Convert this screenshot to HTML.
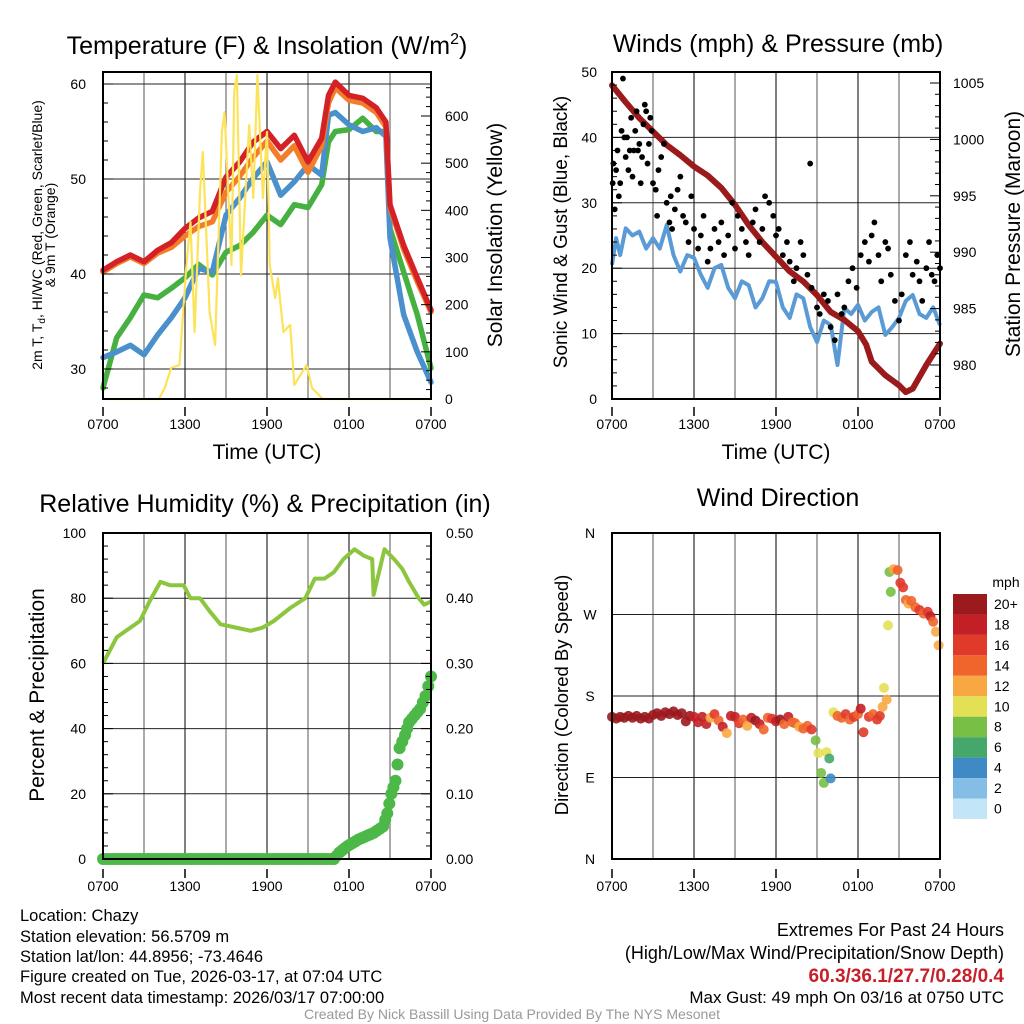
<!DOCTYPE html>
<html><head><meta charset="utf-8">
<style>
html,body{margin:0;padding:0;background:#fff;}
svg{display:block;font-family:"Liberation Sans",Arial,sans-serif;}
</style></head>
<body>
<svg id="root" width="1024" height="1024" viewBox="0 0 1024 1024" xmlns="http://www.w3.org/2000/svg">
<g id="p1"></g>
<g id="p2"></g>
<g id="p3"></g>
<g id="p4"></g>
<g id="txt">
<text x="267" y="54" text-anchor="middle" font-size="25">Temperature (F) &amp; Insolation (W/m<tspan dy="-10" font-size="16">2</tspan><tspan dy="10">)</tspan></text>
<text x="778" y="52" text-anchor="middle" font-size="25">Winds (mph) &amp; Pressure (mb)</text>
<text x="265" y="512" text-anchor="middle" font-size="25">Relative Humidity (%) &amp; Precipitation (in)</text>
<text x="778" y="506" text-anchor="middle" font-size="25">Wind Direction</text>
<text x="267" y="459" text-anchor="middle" font-size="21">Time (UTC)</text>
<text x="776" y="459" text-anchor="middle" font-size="21">Time (UTC)</text>
<g transform="translate(42,235) rotate(-90)" font-size="14" text-anchor="middle">
<text x="0" y="0">2m T, T<tspan font-size="10" dy="3">d</tspan><tspan dy="-3">, HI/WC (Red, Green, Scarlet/Blue)</tspan></text>
<text x="0" y="13">&amp; 9m T (Orange)</text></g>
<text transform="translate(502,235) rotate(-90)" text-anchor="middle" font-size="21">Solar Insolation (Yellow)</text>
<text transform="translate(567,232) rotate(-90)" text-anchor="middle" font-size="19">Sonic Wind &amp; Gust (Blue, Black)</text>
<text transform="translate(1020,234) rotate(-90)" text-anchor="middle" font-size="21">Station Pressure (Maroon)</text>
<text transform="translate(44,695) rotate(-90)" text-anchor="middle" font-size="21">Percent &amp; Precipitation</text>
<text transform="translate(568,695) rotate(-90)" text-anchor="middle" font-size="18.5">Direction (Colored By Speed)</text>
<g font-size="16.5">
<text x="20" y="921">Location: Chazy</text>
<text x="20" y="942">Station elevation: 56.5709 m</text>
<text x="20" y="962">Station lat/lon: 44.8956; -73.4646</text>
<text x="20" y="982">Figure created on Tue, 2026-03-17, at 07:04 UTC</text>
<text x="20" y="1003">Most recent data timestamp: 2026/03/17 07:00:00</text>
</g>
<g text-anchor="end">
<text x="1004" y="936" font-size="18">Extremes For Past 24 Hours</text>
<text x="1004" y="959" font-size="18">(High/Low/Max Wind/Precipitation/Snow Depth)</text>
<text x="1004" y="982" font-size="19" fill="#c8202a" font-weight="bold">60.3/36.1/27.7/0.28/0.4</text>
<text x="1004" y="1003" font-size="17">Max Gust: 49 mph On 03/16 at 0750 UTC</text>
</g>
<text x="512" y="1019" text-anchor="middle" font-size="14" fill="#999">Created By Nick Bassill Using Data Provided By The NYS Mesonet</text>
</g>
</svg>
<script>
// ---- Panel 1 data ----
const tHours = [0,1,2,3,4,5,6,7,8,9,10,11,12,13,14,15,16,16.5,17,18,19,20,20.7,21,22,23,24];
const tempRed = [40.4,41.3,42,41.3,42.5,43.3,44.8,45.9,46.6,50.2,51.8,53.9,55,53.2,54.6,51.8,54.3,58.8,60.2,58.8,58.5,57.5,56,47.3,43,39.6,36.2];
const temp9m = [40.2,41.1,41.8,41.1,42.2,42.8,44,45,45.5,48.6,50.3,52.3,54,52,53.5,50.7,53.5,58,59.6,58.3,58,57,55.5,47,42.6,39.2,36];
const dewGreen = [28,33.3,35.4,37.8,37.5,38.5,39.6,41,39.9,42.3,43,44.4,46.2,45.2,47.3,47,49.4,53.9,55,55.2,56.4,55,55,44.8,40.2,35.7,30.1];
const chillBlue = [31.2,31.8,32.5,31.5,33.6,35.4,37.5,40.6,40.2,46.2,48,50.1,51.8,48.3,49.7,51.5,50.4,56.7,57,55.7,55,55.4,54.5,43.8,35.7,31.8,28.6];
const solarHours = [0,4.1,4.5,5.0,5.6,6.1,6.4,6.7,7.1,7.3,7.8,8.2,8.7,8.9,9.4,9.6,9.8,10.1,10.7,11,11.3,11.7,12,12.2,12.6,12.8,13.2,13.7,14,14.9,15.3,16.1,24];
const solarVals = [0,0,23,66,72,284,375,142,439,524,184,114,566,608,284,651,687,263,581,426,687,426,566,284,214,256,142,157,30,72,23,0,0];
const tempTicks = [30,40,50,60];
const solarTicks = [0,100,200,300,400,500,600];
const timeLabels = ["0700","1300","1900","0100","0700"];
const timeTickHours = [0,6,12,18,24];
// ---- Panel 2 data ----
const pHours = [0,1,2,3,4,5,6,7,8,9,10,11,12,13,14,15,16,17,18,18.6,19,20,21,21.5,22,23,24];
const pressure = [1004.8,1003.3,1001.9,1000.7,999.5,998.6,997.6,996.8,995.7,994.2,992.4,990.9,989.6,988.3,987.4,986.2,984.7,984,983,981.8,980.3,979.1,978.2,977.6,977.9,980,981.9];
const windHours = [0,0.3,0.6,1,1.5,2,2.5,3,3.5,4,4.5,5,5.5,6,6.5,7,7.5,8,8.5,9,9.5,10,10.5,11,11.5,12,12.5,13,13.5,14,14.5,15,15.5,16,16.5,17,17.5,18,18.5,19,19.5,20,20.5,21,21.5,22,22.5,23,23.5,24];
const windSpeed = [20.5,24.6,22,26.1,25,25.6,23,24.6,23,26.6,22,19.5,22,21.6,19,17,20,20.5,17,15.4,18,17.4,14,15.4,18,17.9,14,12.4,16,15.4,11,8.7,12,11.3,5.2,13.9,13,14.4,12,13.3,14,9.8,11,12.4,15,15.9,13,12.4,14,11.3];
const gustHours = [0.05,0.1,0.2,0.3,0.4,0.5,0.6,0.7,0.8,0.9,1.0,1.1,1.2,1.3,1.4,1.5,1.6,1.7,1.8,1.9,2.0,2.1,2.2,2.3,2.4,2.5,2.6,2.7,2.8,2.9,3.0,3.2,3.3,3.4,3.6,3.8,4.0,4.2,4.3,4.4,4.6,4.8,5.0,5.2,5.4,5.6,5.8,6.0,6.3,6.5,6.7,7.0,7.2,7.5,7.8,8.0,8.2,8.5,8.8,9.0,9.2,9.5,9.8,10.0,10.3,10.5,10.8,11.0,11.2,11.5,11.8,12.0,12.2,12.5,12.8,13.0,13.3,13.5,13.8,14.0,14.3,14.5,14.6,15.0,15.2,15.5,15.8,16.0,16.3,16.5,16.8,17.0,17.3,17.6,17.9,18.2,18.5,18.8,19.0,19.2,19.5,19.7,20.0,20.2,20.4,20.7,21.0,21.2,21.5,21.8,22.0,22.3,22.5,22.7,23.0,23.2,23.4,23.6,23.8,24.0];
const gustVals = [33,36,29,35,38,31,33,41,49,40,37,40,35,38,43,34,38,41,44,38,39,33,37,42,45,44,36,39,43,41,33,32,28,35,37,39,30,27,31,26,29,32,34,28,27,24,31,26,23,25,28,21,23,26,24,27,22,25,30,23,28,26,24,22,27,29,24,26,31,30,28,25,26,22,24,21,18,20,24,22,19,36,17,14,13,16,15,11,9,16,13,14,18,20,17,22,24,21,25,27,22,18,24,23,19,15,12,16,22,24,19,21,18,15,20,24,19,18,22,20];
const windTicks = [0,10,20,30,40,50];
const pressTicks = [980,985,990,995,1000,1005];
// ---- Panel 3 data ----
const rhHours = [0,1,2.7,3.4,4.2,4.9,5.9,6.4,7.1,7.8,8.6,9.7,10.8,11.7,12.5,13.7,14.8,15.5,16.2,16.9,17.6,18.4,19.1,19.7,19.8,20.6,21.3,21.9,22.4,23.1,23.5,24];
const rhVals = [60,68,73,79,85,84,84,80,80,76,72,71,70,71,73,77,80,86,86,88,92,95,93,92,81,95,92,89,85,80,78,79];
const precHours = [0,16.9,17.3,17.9,18.7,19.8,20.5,20.8,21.1,21.4,21.7,22.1,22.4,22.8,23.2,23.6,24];
const precVals = [0,0,0.01,0.02,0.03,0.04,0.05,0.07,0.10,0.12,0.17,0.19,0.21,0.22,0.23,0.25,0.28];
const rhTicks = [0,20,40,60,80,100];
const precTicks = [0,0.1,0.2,0.3,0.4,0.5];
// ---- Panel 4 data ----
const dirHours = [0,0.3,0.6,0.9,1.2,1.5,1.8,2.1,2.4,2.7,3.0,3.3,3.6,3.9,4.2,4.5,4.8,5.1,5.4,5.7,6.0,6.3,6.6,6.9,7.2,7.5,7.8,8.1,8.4,8.7,9.0,9.3,9.6,9.9,10.2,10.5,10.8,11.1,11.4,11.7,12.0,12.3,12.6,12.9,13.2,13.4,13.7,14.0,14.3,14.6,14.9,15.1,15.3,15.5,15.7,15.9,16.0,16.2,16.5,16.8,17.1,17.4,17.7,18.0,18.2,18.4,18.8,19.1,19.4,19.6,19.8,19.9,20.1,20.2,20.3,20.4,20.6,20.9,21.1,21.3,21.5,21.7,21.9,22.2,22.5,22.8,23.1,23.3,23.5,23.7,23.9];
const dirDeg = [157,155,157,156,158,156,158,155,157,155,159,161,158,162,160,163,159,161,152,158,157,151,157,149,156,160,153,146,139,158,157,150,154,147,156,153,149,143,156,155,152,154,149,157,151,150,146,144,147,143,131,117,95,84,118,111,89,162,158,156,160,154,157,160,166,140,157,160,154,158,168,189,176,258,317,295,320,319,305,300,286,282,285,278,275,271,273,268,262,251,236];
const dirSpd = [21,22,21,22,21,22,21,22,21,22,21,22,21,22,21,22,21,22,21,20,18,18,17,18,12,16,14,17,12,18,18,16,14,12,18,20,17,14,13,16,18,20,14,17,13,13,12,13,14,16,8,10,8,7,10,5,4,9,14,14,15,14,15,14,17,16,15,14,15,15,12,9,12,10,7,8,12,13,15,16,14,12,14,13,15,14,16,17,13,12,12];
const spdLegendLabels = ["20+","18","16","14","12","10","8","6","4","2","0"];
const spdColors = ["#9a1a1e","#c22026","#e03a2b","#f0652c","#f8a843","#e3e055","#77bf45","#45a86a","#3f8ac4","#84bde6","#c2e6f8"];
const dirLabels = ["N","E","S","W","N"];
const dirTicks = [0,90,180,270,360];

const NS = "http://www.w3.org/2000/svg";
function mk(parent, tag, attrs){const e=document.createElementNS(NS,tag);for(const k in attrs)e.setAttribute(k,attrs[k]);parent.appendChild(e);return e;}
function linScale(d0,d1,r0,r1){return v=>r0+(v-d0)*(r1-r0)/(d1-d0);}
function pathD(xs,ys,xf,yf){return xs.map((h,i)=>(i?"L":"M")+xf(h).toFixed(1)+","+yf(ys[i]).toFixed(1)).join("");}

function frame(g,x0,x1,y0,y1,hGrid,yf){
  for(let h=3;h<24;h+=3){const x=x0+(x1-x0)*h/24;
    const l=mk(g,"line",{x1:x,x2:x,y1:y0,y2:y1,stroke:(h%6===0?"#000":"#555"),"stroke-width":1});
    
    }
  hGrid.forEach(v=>{const y=yf(v);const l=mk(g,"line",{x1:x0,x2:x1,y1:y,y2:y,stroke:"#222","stroke-width":1});
    
    });
}
function border(g,x0,x1,y0,y1){const r=mk(g,"rect",{x:x0,y:y0,width:x1-x0,height:y1-y0,fill:"none",stroke:"#000","stroke-width":2});
  
  }
function xLabels(g,x0,x1,y){timeTickHours.forEach((h,i)=>{const t=mk(g,"text",{x:x0+(x1-x0)*h/24,y:y,"text-anchor":"middle","font-size":14});t.textContent=timeLabels[i];
  
  
  mk(g,"line",{x1:x0+(x1-x0)*h/24,x2:x0+(x1-x0)*h/24,y1:y-22,y2:y-13,stroke:"#000","stroke-width":1.5});});}
function yLabels(g,ticks,yf,x,anchor,fmt){ticks.forEach(v=>{const t=mk(g,"text",{x:x,y:yf(v)+5,"text-anchor":anchor,"font-size":14});t.textContent=fmt?fmt(v):v;
  
  });}
function minorRight(g,x1,yf,from,to,step,major){for(let v=from;v<=to+1e-9;v+=step){const isM=Math.abs((v/major)-Math.round(v/major))<1e-6;mk(g,"line",{x1:x1,x2:x1-(isM?10:5),y1:yf(v),y2:yf(v),stroke:"#000","stroke-width":1});}}
function minorLeft(g,x0,yf,from,to,step,major){for(let v=from;v<=to+1e-9;v+=step){const isM=Math.abs((v/major)-Math.round(v/major))<1e-6;mk(g,"line",{x1:x0,x2:x0+(isM?10:5),y1:yf(v),y2:yf(v),stroke:"#000","stroke-width":1});}}

// Panel 1
(function(){
 const g=document.getElementById("p1");
 const x=linScale(0,24,103,431), y=linScale(30,60,369,84), ys=linScale(0,600,399,116);
 frame(g,103,431,72,399,tempTicks,y);
 [[dewGreen,"#46b040","dewpoint-line"],[chillBlue,"#4a90cc","heat-index-line"],[temp9m,"#f47d2a","temp-9m-line"],[tempRed,"#d42126","temp-2m-line"]].forEach(s=>{
   const p=mk(g,"path",{d:pathD(tHours,s[0],x,y),fill:"none",stroke:s[1],"stroke-width":5.5,"stroke-linejoin":"round","stroke-linecap":"round"});
   
   });
 const sp=mk(g,"path",{d:pathD(solarHours,solarVals,x,ys),fill:"none",stroke:"#fde35a","stroke-width":2.2,"stroke-linejoin":"round"});
 
 
 border(g,103,431,72,399);
 minorRight(g,431,ys,0,660,20,100);
 minorLeft(g,103,y,28,60,2,10);
 yLabels(g,tempTicks,y,86,"end");
 yLabels(g,solarTicks,ys,445,"start");
 xLabels(g,103,431,429);
})();
// Panel 2
(function(){
 const g=document.getElementById("p2");
 const x=linScale(0,24,612,940), y=linScale(0,50,399,72), yp=linScale(980,1005,365,83);
 frame(g,612,940,72,399,[10,20,30,40],y);
 const w=mk(g,"path",{d:pathD(windHours,windSpeed,x,y),fill:"none",stroke:"#5b9bd5","stroke-width":4,"stroke-linejoin":"round"});
 
 
 const pp=mk(g,"path",{d:pathD(pHours,pressure,x,yp),fill:"none",stroke:"#9b1b1d","stroke-width":6,"stroke-linejoin":"round","stroke-linecap":"round"});
 
 
 gustHours.forEach((h,i)=>{const c=mk(g,"circle",{cx:x(h),cy:y(gustVals[i]),r:2.9,fill:"#000"});
   
   });
 border(g,612,940,72,399);
 minorRight(g,940,yp,977,1006,1,5);
 minorLeft(g,612,y,0,50,2,10);
 yLabels(g,windTicks,y,597,"end");
 yLabels(g,pressTicks,yp,953,"start");
 xLabels(g,612,940,429);
})();
// Panel 3
(function(){
 const g=document.getElementById("p3");
 const x=linScale(0,24,103,431), y=linScale(0,100,859,533), yp=linScale(0,0.5,859,533);
 frame(g,103,431,533,859,[20,40,60,80],y);
 const r=mk(g,"path",{d:pathD(rhHours,rhVals,x,y),fill:"none",stroke:"#8cc63f","stroke-width":4,"stroke-linejoin":"round"});
 
 
 for(let i=0;i<precHours.length-1;i++){const h0=precHours[i],h1=precHours[i+1];const n=Math.max(1,Math.ceil((h1-h0)/0.25));
   for(let k=0;k<n;k++){const f=k/n;const c=mk(g,"circle",{cx:x(h0+(h1-h0)*f),cy:yp(precVals[i]+(precVals[i+1]-precVals[i])*f),r:6,fill:"#4cb848"});
     
     }}
 const last=mk(g,"circle",{cx:x(precHours[precHours.length-1]),cy:yp(precVals[precVals.length-1]),r:6,fill:"#4cb848"});
 
 
 border(g,103,431,533,859);
 minorRight(g,431,yp,0,0.5,0.02,0.1);
 minorLeft(g,103,y,0,100,4,20);
 yLabels(g,rhTicks,y,86,"end");
 yLabels(g,precTicks,yp,446,"start",v=>v.toFixed(2));
 xLabels(g,103,431,891);
})();
// Panel 4
(function(){
 const g=document.getElementById("p4");
 const x=linScale(0,24,612,940), y=linScale(0,360,859,533);
 frame(g,612,940,533,859,[90,180,270],y);
 function col(s){const idx=Math.min(10,Math.max(0,Math.round(s/2)));return spdColors[10-idx];}
 dirHours.forEach((h,i)=>{const c=mk(g,"circle",{cx:x(h),cy:y(dirDeg[i]),r:5,fill:col(dirSpd[i]),opacity:0.9});
   
   });
 border(g,612,940,533,859);
 dirTicks.forEach((d,i)=>{const t=mk(g,"text",{x:590,y:y(d)+5,"text-anchor":"middle","font-size":14});t.textContent=dirLabels[i];
   
   });
 xLabels(g,612,940,891);
 const lg=mk(g,"g",{});
 
 
 const mt=mk(lg,"text",{x:1006,y:587,"text-anchor":"middle","font-size":14});mt.textContent="mph";
 spdColors.forEach((c,i)=>{const yy=594+i*20.45;
   const r=mk(lg,"rect",{x:953,y:yy,width:34,height:20.45,fill:c});
   
   
   const t=mk(lg,"text",{x:994,y:yy+15,"font-size":14});t.textContent=spdLegendLabels[i];
   
   });
})();
</script>
</body></html>
